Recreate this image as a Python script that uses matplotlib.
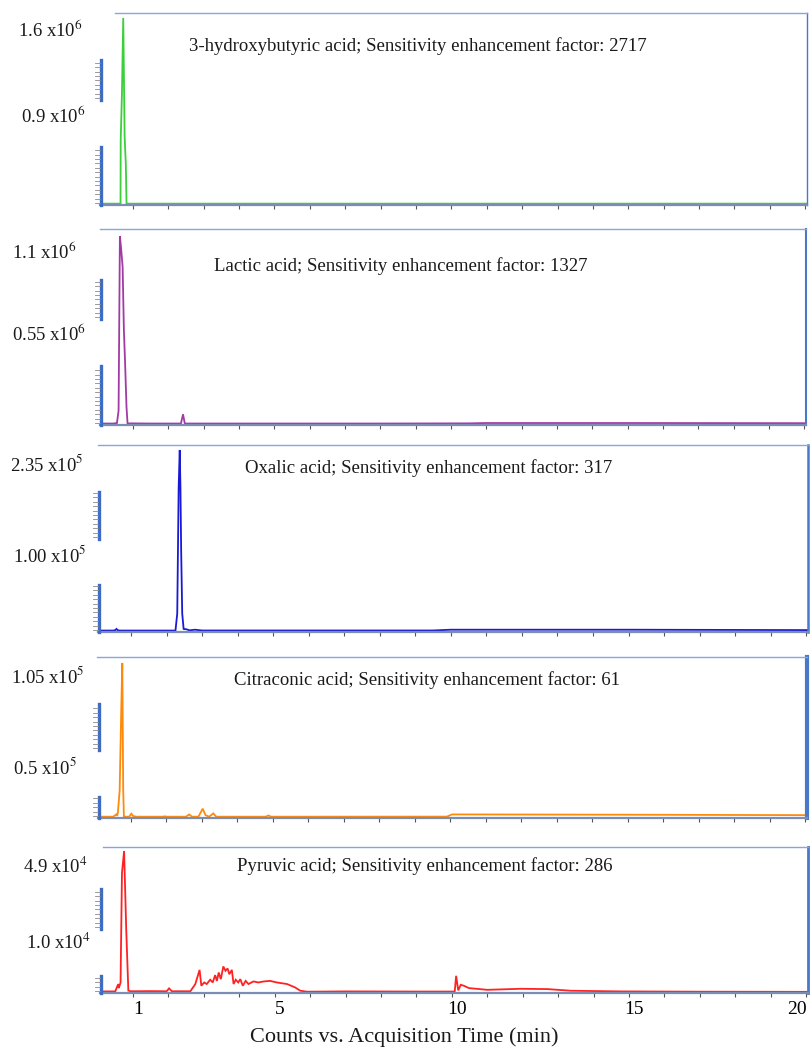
import numpy as np
import matplotlib
matplotlib.use("Agg")
import matplotlib.pyplot as plt
import matplotlib.transforms as mtransforms
from matplotlib.lines import Line2D

plt.rcParams["font.family"] = ["Liberation Serif", "DejaVu Serif"]
plt.rcParams["mathtext.fontset"] = "stix"

W, H = 810, 1051          # canvas in pixels (dpi 100)
XLIM = (0.07, 20.05)      # acquisition time window, min

# ── chromatograms: (time min, counts) ─────────────────────────────────────────
HYDROXYBUTYRIC = [
    (0.07, 5e3), (0.60, 5e3), (0.65, 5e3), (0.655, 0.55e6), (0.69, 0.95e6),
    (0.727, 1.6e6), (0.766, 0.58e6), (0.80, 0.34e6), (0.82, 5e3), (0.86, 5e3),
    (20.05, 5e3),
]
LACTIC = [
    (0.07, 4e3), (0.45, 4e3), (0.55, 7e3), (0.596, 0.08e6), (0.633, 1.1e6),
    (0.67, 1.02e6), (0.71, 0.92e6), (0.746, 0.55e6), (0.78, 0.36e6),
    (0.82, 0.10e6), (0.85, 4e3), (0.95, 5e3), (1.5, 4e3), (2.0, 4e3),
    (2.36, 4e3), (2.42, 58e3), (2.47, 4e3), (2.6, 4e3), (5.0, 4e3),
    (8.0, 4e3), (10.5, 5e3), (11.0, 7e3), (15.0, 7e3), (20.05, 6e3),
]
OXALIC = [
    (0.07, 900), (0.50, 900), (0.56, 1500), (0.59, 3000), (0.63, 1200),
    (0.70, 900), (1.5, 900), (2.25, 900), (2.30, 2.3e4), (2.34, 1.87e5),
    (2.37, 2.35e5), (2.39, 1.87e5), (2.41, 1.05e5), (2.44, 2.3e4),
    (2.48, 3000), (2.56, 2500), (2.65, 1200), (2.8, 2000), (3.0, 1000),
    (5.0, 1000), (9.5, 1000), (10.0, 2000), (15.0, 2000), (20.05, 1500),
]
CITRACONIC = [
    (0.07, 450), (0.50, 450), (0.585, 2000), (0.61, 1000), (0.63, 3200),
    (0.68, 1.8e4), (0.727, 7.5e4), (0.755, 1.05e5), (0.78, 1.9e4),
    (0.80, 500), (0.85, 450), (0.95, 450), (1.01, 2500), (1.06, 900),
    (1.15, 450), (1.90, 450), (1.95, 700), (2.00, 450), (2.55, 450),
    (2.64, 2000), (2.72, 450), (2.90, 450), (3.02, 5900), (3.10, 1500),
    (3.20, 450), (3.32, 2700), (3.40, 450), (3.60, 450), (4.80, 450),
    (4.87, 1300), (4.95, 450), (9.90, 500), (10.05, 2000), (15.0, 1800),
    (20.05, 1500),
]
PYRUVIC = [
    (0.07, 350), (0.50, 350), (0.585, 2900), (0.60, 1500), (0.65, 3400),
    (0.69, 41400), (0.75, 49000), (0.81, 21800), (0.87, 600), (0.95, 400),
    (1.50, 450), (1.95, 400), (2.02, 1400), (2.10, 400), (2.62, 400),
    (2.76, 2900), (2.88, 7800), (2.93, 2300), (3.01, 3450), (3.08, 2900),
    (3.18, 4400), (3.25, 3450), (3.32, 6000), (3.37, 4000), (3.42, 6900),
    (3.48, 4600), (3.55, 9000), (3.61, 7500), (3.67, 8300), (3.72, 6300),
    (3.79, 7800), (3.84, 2900), (3.90, 4400), (3.97, 3450), (4.03, 4600),
    (4.10, 2300), (4.18, 4000), (4.26, 2900), (4.40, 3800), (4.54, 3450),
    (4.69, 3800), (4.87, 4000), (5.06, 3450), (5.35, 2900), (5.58, 1700),
    (5.72, 600), (5.91, 250), (7.0, 350), (9.0, 300), (10.08, 300),
    (10.12, 5750), (10.18, 700), (10.25, 2650), (10.34, 2300), (10.48, 1500),
    (11.0, 900), (11.94, 1260), (12.7, 1150), (13.36, 580), (14.77, 350),
    (17.0, 250), (20.05, 200),
]

TITLES = [
    "3-hydroxybutyric acid; Sensitivity enhancement factor: 2717",
    "Lactic acid; Sensitivity enhancement factor: 1327",
    "Oxalic acid; Sensitivity enhancement factor: 317",
    "Citraconic acid; Sensitivity enhancement factor: 61",
    "Pyruvic acid; Sensitivity enhancement factor: 286",
]
TOP_LABELS = [r"1.6 x10$^{6}$", r"1.1 x10$^{6}$", r"2.35 x10$^{5}$",
              r"1.05 x10$^{5}$", r"4.9 x10$^{4}$"]
MID_LABELS = [r"0.9 x10$^{6}$", r"0.55 x10$^{6}$", r"1.00 x10$^{5}$",
              r"0.5 x10$^{5}$", r"1.0 x10$^{4}$"]
PEAK_MAX = [1.6e6, 1.1e6, 2.35e5, 1.05e5, 4.9e4]
TRACES = [HYDROXYBUTYRIC, LACTIC, OXALIC, CITRACONIC, PYRUVIC]
COLORS = ["#3ccf3c", "#a23aa6", "#1a1ad2", "#ff8a0a", "#ff2222"]
XTICK_LABELS = {1: "1", 5: "5", 10: "10", 15: "15", 20: "20"}

# ── layout (pixels) ───────────────────────────────────────────────────────────
# frame: left, top, right, bottom; peak_y: pixel row of the tallest peak
FRAMES = [(100, 13, 807, 205), (100, 229, 806, 425), (98, 445, 808, 632),
          (98, 657, 807, 818), (100, 847, 808, 993)]
PEAK_Y = [18, 236, 450, 663, 851]
TOP_START = [115, 100, 98, 97, 103]
SPINE_SEGS = [[(60, 100), (147, 205)], [(280, 319), (366, 425)],
              [(492, 539), (585, 632)], [(704, 750), (797, 818)],
              [(889, 929), (976, 993)]]
TITLE_POS = [(418, 51), (401, 271), (429, 473), (427, 685), (425, 871)]
TOP_LAB_POS = [(18, 37), (12, 259), (10, 471), (11, 683), (23, 873)]
MID_LAB_POS = [(21, 123), (12, 341), (13, 562), (13, 774), (26, 949)]
RIGHT_LW = [1.0, 1.5, 1.8, 3.0, 2.0]
FS = 13.5


def fx(px):
    return px / W


def fy(py):
    return 1 - py / H


fig = plt.figure(figsize=(W / 100, H / 100), dpi=100)

for i, trace in enumerate(TRACES):
    l, t, r, b = FRAMES[i]
    ax = fig.add_axes([fx(l), fy(b), (r - l) / W, (b - t) / H])
    data = np.array(trace)
    ax.plot(data[:, 0], data[:, 1], color=COLORS[i], lw=1.3, solid_joinstyle="miter")

    ymax = PEAK_MAX[i] * (b - t) / (b - PEAK_Y[i])
    ax.set_xlim(*XLIM)
    ax.set_ylim(-0.004 * ymax, ymax)

    # frame styling
    px_per_min = (r - l) / (XLIM[1] - XLIM[0])
    ax.spines["left"].set_visible(False)
    ax.spines["top"].set_color("#86a6dc")
    ax.spines["top"].set_linewidth(1.0)
    ax.spines["top"].set_bounds(XLIM[0] + (TOP_START[i] - l) / px_per_min, XLIM[1])
    ax.spines["right"].set_color("#4a78c8")
    ax.spines["right"].set_linewidth(RIGHT_LW[i])
    ax.spines["bottom"].set_color("#7b8db5")
    ax.spines["bottom"].set_linewidth(1.6)
    ax.set_yticks([])
    ax.set_xticks(range(1, 21))
    ax.tick_params(axis="x", direction="out", length=3, width=0.8,
                   color="#555555", pad=3, labelsize=14)
    if i == len(TRACES) - 1:
        ax.set_xticklabels([XTICK_LABELS.get(k, "") for k in range(1, 21)])
        shift = mtransforms.ScaledTranslation(5 / 100, 0, fig.dpi_scale_trans)
        for k, lab in zip(range(1, 21), ax.get_xticklabels()):
            if k == 20:
                lab.set_horizontalalignment("right")
                lab.set_transform(lab.get_transform() + mtransforms.ScaledTranslation(
                    1 / 100, 0, fig.dpi_scale_trans))
            else:
                lab.set_transform(lab.get_transform() + shift)
    else:
        ax.set_xticklabels([])

    # left axis shown only in pieces, with fine ticks
    for y0, y1 in SPINE_SEGS[i]:
        fig.add_artist(Line2D([fx(l + 1), fx(l + 1)], [fy(y0), fy(y1)],
                              color="#3d6cc4", lw=2.4, transform=fig.transFigure))
        for yy in np.arange(y1 - 2, y0, -4.4):
            fig.add_artist(Line2D([fx(l - 5), fx(l)], [fy(yy), fy(yy)],
                                  color="#8a8a8a", lw=0.6,
                                  transform=fig.transFigure))

    fig.text(fx(TITLE_POS[i][0]), fy(TITLE_POS[i][1]), TITLES[i],
             ha="center", va="baseline", fontsize=FS, color="#1a1a1a")
    fig.text(fx(TOP_LAB_POS[i][0]), fy(TOP_LAB_POS[i][1]), TOP_LABELS[i],
             ha="left", va="baseline", fontsize=FS, color="#1a1a1a")
    fig.text(fx(MID_LAB_POS[i][0]), fy(MID_LAB_POS[i][1]), MID_LABELS[i],
             ha="left", va="baseline", fontsize=FS, color="#1a1a1a")

fig.text(fx(404), fy(1037), "Counts vs. Acquisition Time (min)",
         ha="center", va="center", fontsize=16, color="#1a1a1a")

fig.savefig("out.png", dpi=100)
